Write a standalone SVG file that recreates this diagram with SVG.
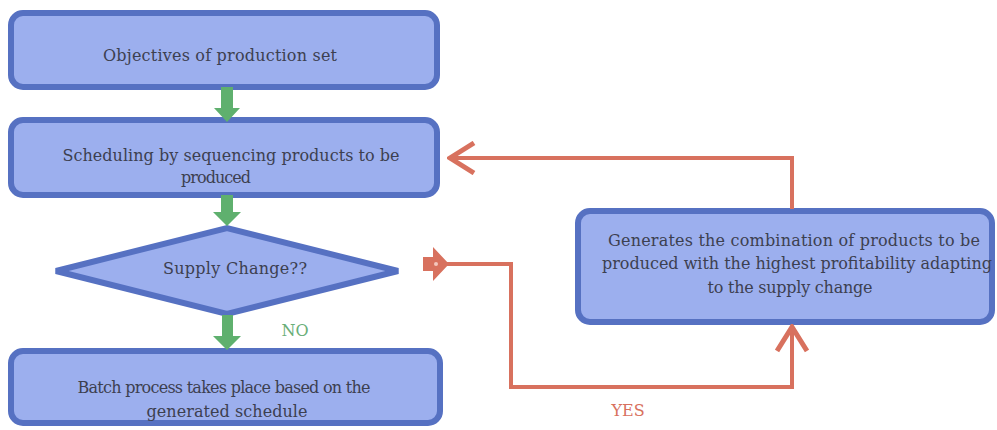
<svg xmlns="http://www.w3.org/2000/svg" width="997" height="430" viewBox="0 0 997 430">
<style>
.node{fill:#9cafee;stroke:#5671c2;stroke-width:6}
.t{font-family:"DejaVu Serif","Liberation Serif",serif;font-size:16px;fill:#3c4050;text-anchor:middle;dominant-baseline:central}
.g{fill:#5fb06e}
.r{fill:none;stroke:#d8715e;stroke-width:4}
.lbl{font-family:"DejaVu Serif","Liberation Serif",serif;font-size:16px;text-anchor:middle;dominant-baseline:central}
</style>
<defs>
<marker id="chev" viewBox="0 0 30 34" refX="27" refY="17" markerWidth="30" markerHeight="34" markerUnits="userSpaceOnUse" orient="auto">
<polyline points="3,2 27,17 3,32" fill="none" stroke="#d8715e" stroke-width="5"/>
</marker>
</defs>
<rect width="997" height="430" fill="#ffffff"/>
<g id="n1">
<rect class="node" x="11" y="13" width="426" height="74" rx="12"/>
<text class="t" x="220" y="55" textLength="234">Objectives of production set</text>
</g>
<g id="n2">
<rect class="node" x="11" y="120" width="426" height="75" rx="12"/>
<text class="t" x="231" y="155" textLength="337">Scheduling by sequencing products to be</text>
<text class="t" x="216" y="177" textLength="70">produced</text>
</g>
<g id="n3">
<polygon class="node" points="56,271 227,228 398,271 227,314"/>
<text class="t" x="235" y="268" textLength="144">Supply Change??</text>
</g>
<g id="n4">
<rect class="node" x="11" y="351" width="429" height="72" rx="12"/>
<text class="t" x="224" y="387" textLength="293">Batch process takes place based on the</text>
<text class="t" x="227" y="411" textLength="161">generated schedule</text>
</g>
<g id="n5">
<rect class="node" x="578" y="211" width="414" height="111" rx="12"/>
<text class="t" x="794" y="240" textLength="372">Generates the combination of products to be</text>
<text class="t" x="797" y="263" textLength="390">produced with the highest profitability adapting</text>
<text class="t" x="790" y="287" textLength="165">to the supply change</text>
</g>
<g id="connectors">
<polygon class="g" points="221,87 233,87 233,108 240,108 227,122 214,108 221,108"/>
<polygon class="g" points="221,195 233,195 233,212 241,212 227,226 213,212 221,212"/>
<polygon class="g" points="222,315 233,315 233,336 241,336 227,350 213,336 222,336"/>
<path class="r" d="M792,209 V158 H450" marker-end="url(#chev)"/>
<path class="r" d="M446,264 H511 V387 H792 V327" marker-end="url(#chev)"/>
<polygon fill="#d8715e" points="423,257 433,257 433,247 449,264 433,281 433,271 423,271"/>
<circle cx="436" cy="264" r="2" fill="#f4c7bd"/>
<text class="lbl" x="295" y="330" fill="#6aae78">NO</text>
<text class="lbl" x="628" y="410" fill="#d8715e">YES</text>
</g>
</svg>
